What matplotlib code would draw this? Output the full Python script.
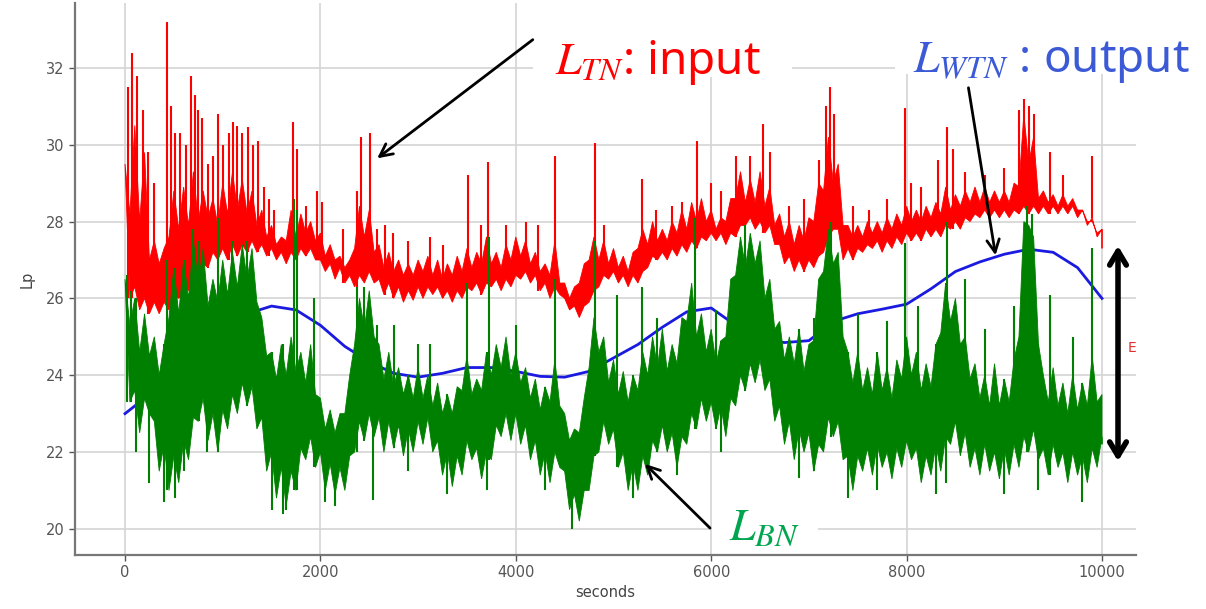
import numpy as np
import matplotlib
matplotlib.use("Agg")
import matplotlib.pyplot as plt
from matplotlib.patches import Rectangle

# ---------------- data ----------------
t_band = np.arange(0, 10001, 50)

red_hi = [29.5, 28.2, 30.5, 28.0, 29.8, 27.0, 27.5, 26.9, 27.3, 27.6,
          28.8, 27.8, 28.9, 27.9, 29.3, 28.0, 28.8, 28.1, 28.6, 27.9,
          29.0, 28.2, 29.3, 28.3, 29.1, 28.2, 28.8, 27.9, 28.3, 27.6,
          27.9, 27.4, 27.6, 27.5, 28.3, 27.6, 28.2, 27.7, 28.0, 27.5,
          27.7, 27.1, 27.4, 27.0, 27.1, 26.8, 27.0, 27.3, 28.4, 27.6,
          28.3, 27.2, 27.4, 26.8, 27.2, 26.7, 27.0, 26.6, 26.9, 26.6,
          27.0, 26.7, 27.1, 26.6, 27.0, 26.5, 26.9, 26.6, 27.1, 26.7,
          27.3, 26.8, 27.2, 26.9, 27.6, 26.9, 27.2, 26.8, 27.4, 27.0,
          27.6, 27.1, 27.5, 26.9, 27.2, 26.7, 26.9, 26.6, 27.5, 26.4,
          26.4, 26.0, 26.3, 26.4, 26.9, 27.0, 27.6, 27.0, 27.5, 26.9,
          27.3, 26.8, 27.1, 26.7, 27.2, 27.3, 27.8, 27.4, 28.0, 27.5,
          27.8, 27.5, 28.0, 27.7, 28.3, 27.8, 28.5, 28.0, 28.6, 28.0,
          28.3, 27.8, 28.1, 28.0, 28.6, 28.6, 29.3, 28.5, 29.1, 28.5,
          29.3, 28.4, 28.9, 27.9, 28.2, 27.6, 28.0, 27.4, 27.9, 27.5,
          28.1, 28.0, 29.0, 28.8, 30.2, 29.0, 29.5, 27.9, 27.9, 27.6,
          27.9, 27.6, 28.0, 27.7, 28.0, 27.7, 28.1, 27.8, 28.2, 27.9,
          28.4, 28.0, 28.3, 28.0, 28.4, 28.1, 28.5, 28.2, 28.9, 28.3,
          28.7, 28.4, 28.8, 28.5, 28.9, 28.5, 28.9, 28.5, 28.8, 28.5,
          28.8, 28.5, 29.0, 28.9, 30.8, 29.5, 30.2, 28.6, 28.8, 28.5,
          28.7, 28.4, 28.7, 28.4, 28.6, 28.3, 28.3, 28.0, 28.0, 27.7,
          27.8]
red_lo = [26.0, 26.3, 25.7, 26.0, 25.6, 25.9, 25.6, 25.9, 25.7, 26.1,
          26.0, 26.4, 26.2, 26.6, 26.5, 26.9, 26.8, 27.2, 27.0, 27.3,
          27.0, 27.4, 27.1, 27.4, 27.2, 27.5, 27.2, 27.4, 27.1, 27.3,
          27.0, 27.2, 26.9, 27.2, 27.0, 27.3, 27.1, 27.3, 27.0, 27.0,
          26.7, 26.9, 26.5, 26.8, 26.4, 26.6, 26.3, 26.6, 26.4, 26.7,
          26.4, 26.5, 26.1, 26.4, 26.0, 26.3, 25.9, 26.2, 25.95, 26.3,
          26.0, 26.3, 26.1, 26.3, 26.0, 26.2, 25.9, 26.2, 26.0, 26.3,
          26.2, 26.4, 26.1, 26.4, 26.3, 26.5, 26.2, 26.5, 26.3, 26.6,
          26.5, 26.7, 26.4, 26.6, 26.2, 26.4, 26.0, 26.3, 26.1, 26.0,
          25.7, 25.8, 25.5, 25.8, 25.9, 26.2, 26.3, 26.6, 26.5, 26.7,
          26.4, 26.6, 26.3, 26.6, 26.4, 26.7, 26.8, 27.1, 27.0, 27.2,
          27.0, 27.3, 27.1, 27.4, 27.2, 27.5, 27.3, 27.6, 27.5, 27.7,
          27.5, 27.7, 27.4, 27.7, 27.6, 27.9, 27.9, 28.1, 27.8, 28.0,
          27.7, 27.9, 27.4, 27.4, 26.9, 27.1, 26.7, 27.0, 26.7, 27.0,
          26.8, 27.1, 27.2, 27.6, 27.8, 27.8, 27.0, 27.3, 27.0, 27.3,
          27.2, 27.4, 27.3, 27.5, 27.2, 27.5, 27.3, 27.6, 27.4, 27.7,
          27.5, 27.7, 27.5, 27.8, 27.6, 27.8, 27.6, 27.9, 27.8, 28.0,
          27.8, 28.1, 28.0, 28.2, 28.1, 28.3, 28.1, 28.3, 28.1, 28.3,
          28.1, 28.3, 28.2, 28.4, 28.2, 28.4, 28.2, 28.4, 28.2, 28.4,
          28.2, 28.4, 28.2, 28.4, 28.1, 28.3, 27.9, 28.1, 27.6, 27.8,
          27.3]
red_spike_t = [30, 70, 120, 180, 240, 300, 430, 470, 510, 560, 620, 680, 720,
               750, 790, 850, 900, 955, 1000, 1060, 1110, 1150, 1200, 1260,
               1310, 1365, 1420, 1470, 1520, 1716, 1760, 1850, 1962, 2020,
               2235, 2370, 2420, 2508, 2576, 2660, 2746, 2900, 3122, 3250,
               3515, 3640, 3720, 3900, 4100, 4230, 4402, 4811, 4900, 5289,
               5430, 5600, 5700, 5850, 6000, 6100, 6250, 6400, 6532, 6600,
               6800, 6950, 7100, 7180, 7215, 7260, 7450, 7620, 7800, 7984,
               8050, 8150, 8320, 8410, 8470, 8600, 8800, 9000, 9150, 9200,
               9250, 9300, 9468, 9600, 9895]
red_spike_v = [31.5, 32.4, 31.8, 30.9, 29.8, 29.0, 33.2, 31.0, 30.3, 30.3,
               30.0, 31.8, 31.3, 30.9, 30.7, 29.5, 29.7, 30.8, 30.0, 30.3,
               30.6, 30.5, 30.3, 30.45, 30.0, 30.1, 28.9, 28.6, 28.3, 30.6,
               29.9, 28.4, 28.8, 28.5, 27.8, 28.8, 30.2, 30.3, 27.8, 27.9,
               27.7, 27.5, 27.6, 27.4, 29.2, 27.9, 29.55, 27.9, 28.0, 27.9,
               29.7, 30.05, 27.9, 29.1, 28.3, 28.4, 28.5, 30.1, 29.0, 28.8,
               29.7, 29.7, 30.55, 29.8, 28.4, 28.6, 29.6, 31.0, 31.5, 30.8,
               28.4, 28.3, 28.6, 30.95, 29.0, 28.9, 29.6, 30.45, 29.9, 29.3,
               29.2, 29.4, 30.9, 31.2, 31.0, 30.8, 29.8, 29.2, 29.7]

green_hi = [26.5, 25.3, 26.0, 24.6, 25.6, 24.5, 25.0, 24.0, 24.8, 25.5,
            26.8, 25.6, 27.0, 26.0, 27.5, 26.4, 27.3, 25.8, 26.5, 25.9,
            27.0, 26.1, 27.2, 26.3, 27.4, 26.5, 27.3, 25.9, 25.5, 24.5,
            24.6, 23.9, 24.8, 24.0, 25.0, 24.1, 24.6, 23.8, 24.8, 23.5,
            23.4, 22.6, 23.1, 22.5, 23.0, 23.0, 24.0, 24.8, 26.0, 25.2,
            26.2, 25.0, 24.8, 23.9, 24.6, 23.7, 24.2, 23.5, 24.0, 23.4,
            24.2, 23.4, 24.0, 23.2, 23.8, 23.0, 23.5, 23.0, 23.7, 23.6,
            24.5, 23.5, 23.9, 23.6, 24.6, 24.0, 24.8, 24.2, 25.0, 24.0,
            24.6, 23.8, 24.2, 23.4, 23.9, 23.1, 23.7, 23.3, 24.4, 23.2,
            23.0, 22.3, 22.6, 22.5, 23.4, 24.2, 25.5, 24.6, 25.0, 23.8,
            24.4, 23.5, 24.1, 23.3, 24.0, 23.6, 24.6, 24.0, 25.0, 24.2,
            25.2, 24.1, 24.8, 24.3, 25.5, 25.4, 26.4, 25.0, 25.6, 24.6,
            25.2, 24.3, 24.9, 25.0, 26.5, 26.6, 27.6, 26.8, 27.7, 26.9,
            27.5, 26.0, 26.5, 25.2, 25.4, 24.4, 25.0, 24.3, 25.2, 24.1,
            24.8, 24.9, 26.5, 26.7, 27.8, 26.9, 27.2, 25.0, 24.6, 23.8,
            24.6, 23.6, 24.2, 23.5, 24.6, 23.6, 24.2, 23.4, 24.4, 23.9,
            25.0, 24.0, 24.6, 23.6, 24.3, 23.7, 24.8, 25.1, 26.4, 25.4,
            26.0, 24.8, 25.0, 23.9, 24.3, 23.4, 24.0, 23.2, 24.3, 23.2,
            23.9, 23.3, 24.4, 25.0, 28.0, 27.9, 27.6, 24.8, 24.0, 23.3,
            24.2, 23.2, 23.8, 23.0, 24.0, 23.1, 23.8, 23.2, 24.5, 23.3,
            23.5]
green_lo = [23.3, 23.6, 22.5, 23.4, 23.0, 22.8, 21.5, 22.2, 21.0, 21.9,
            21.2, 22.3, 21.8, 22.9, 22.8, 23.4, 22.3, 23.0, 22.0, 23.1,
            22.6, 23.5, 23.0, 23.8, 23.2, 23.7, 22.6, 22.9, 21.5, 22.0,
            20.8, 21.6, 20.6, 21.5, 21.0, 22.1, 21.8, 22.4, 21.6, 22.0,
            21.0, 21.7, 20.9, 21.6, 21.0, 21.9, 22.0, 22.8, 22.3, 23.0,
            22.4, 22.9, 22.0, 22.8, 22.1, 22.7, 21.9, 22.6, 22.0, 22.8,
            22.2, 22.9, 22.0, 22.3, 21.4, 22.0, 21.1, 21.9, 21.4, 22.3,
            21.8, 22.1, 21.3, 22.0, 21.8, 22.7, 22.4, 23.0, 22.3, 23.0,
            22.2, 22.7, 21.8, 22.3, 21.4, 22.0, 21.2, 22.0, 21.6, 21.5,
            20.5, 20.9, 20.2, 21.0, 21.0, 21.9, 22.0, 22.8, 22.2, 22.6,
            21.6, 22.0, 21.0, 21.7, 21.0, 21.9, 21.4, 22.3, 22.0, 22.7,
            22.0, 22.5, 21.6, 22.4, 22.2, 23.0, 22.6, 23.4, 22.8, 23.3,
            22.6, 23.2, 22.4, 23.4, 23.2, 24.0, 23.6, 24.3, 23.8, 24.4,
            23.6, 23.9, 22.8, 23.2, 22.2, 22.8, 21.8, 22.6, 22.0, 22.5,
            21.5, 22.2, 22.0, 22.9, 22.4, 22.8, 21.8, 21.9, 21.0, 21.9,
            21.5, 22.1, 21.4, 22.2, 21.6, 22.0, 21.3, 22.1, 21.6, 22.3,
            21.8, 22.1, 21.2, 21.9, 21.4, 22.2, 21.5, 22.4, 22.2, 22.8,
            21.9, 22.5, 21.6, 22.1, 21.4, 22.2, 21.5, 22.0, 21.3, 22.1,
            21.4, 22.2, 21.6, 22.4, 22.0, 22.6, 21.8, 22.1, 21.4, 22.2,
            21.6, 22.0, 21.2, 22.0, 21.4, 21.9, 21.2, 22.1, 21.6, 22.4,
            22.2]
green_up_t = [20, 60, 430, 480, 700, 760, 955, 1100, 1250, 1730, 1760, 1930,
              2370, 2450, 2580, 2750, 3000, 3122, 3500, 3730, 4000, 4400,
              4810, 5032, 5289, 5450, 5830, 6050, 6350, 7050, 7230, 7500,
              7800, 7984, 8120, 8410, 8600, 8800, 9100, 9230, 9280, 9468,
              9700, 9900]
green_up_v = [26.6, 26.2, 27.0, 26.5, 27.8, 27.5, 28.1, 27.5, 27.5, 28.6,
              28.3, 26.0, 26.3, 26.3, 25.3, 25.3, 24.8, 24.8, 26.4, 27.6,
              25.3, 26.5, 27.5, 26.1, 26.3, 25.5, 28.1, 25.7, 27.9, 25.5,
              28.0, 25.6, 25.4, 27.45, 25.8, 28.0, 26.5, 25.2, 25.8, 28.4,
              28.2, 26.1, 25.0, 27.3]
green_dn_t = [113, 250, 400, 512, 600, 840, 1500, 1620, 1650, 2050, 2150,
              2542, 2900, 3300, 3700, 4300, 4570, 5200, 5650, 6100, 6900,
              7400, 7700, 8300, 8400, 9000, 9350, 9800]
green_dn_v = [22.0, 21.2, 20.7, 20.8, 21.5, 22.0, 20.5, 20.4, 20.5, 20.7,
              20.6, 20.75, 21.5, 20.9, 21.0, 21.0, 20.0, 20.8, 21.4, 22.0,
              21.3, 20.8, 21.0, 20.9, 21.2, 20.9, 21.0, 20.7]

t_out = np.arange(0, 10001, 250)
blue_out = [23.0, 23.5, 24.05, 24.7, 25.2, 25.6, 25.8, 25.7, 25.3, 24.75,
            24.35, 24.05, 23.95, 24.05, 24.2, 24.2, 24.1, 23.97, 23.95, 24.1,
            24.45, 24.8, 25.25, 25.65, 25.75, 25.3, 24.95, 24.85, 24.9, 25.4,
            25.6, 25.72, 25.85, 26.25, 26.7, 26.95, 27.15, 27.28, 27.2, 26.8,
            26.0]

x_ticks = [0, 2000, 4000, 6000, 8000, 10000]
y_ticks = [20, 22, 24, 26, 28, 30, 32]

# ---------------- figure ----------------
W, H = 1206, 609
fig = plt.figure(figsize=(W / 100, H / 100), dpi=100)
ax = fig.add_axes([75 / W, (H - 555) / H, (1136 - 75) / W, (555 - 3) / H])


def fp(x, y):
    """figure-pixel (top-left origin) -> figure fraction"""
    return (x / W, 1 - y / H)


def idx(t):
    return min(max(int(round(t / 50)), 0), len(t_band) - 1)


# the lower edge is staggered by half a sample so that upper and lower
# notches never coincide (keeps the noisy band solid)
t_low = np.minimum(t_band + 50, t_band[-1])


def band(hi, lo, color, z):
    xs = np.concatenate([t_band, t_low[::-1]])
    ys = np.concatenate([hi, lo[::-1]])
    ax.fill(xs, ys, facecolor=color, edgecolor=color, lw=0.6, zorder=z)


RED = "#ff0000"
GREEN = "#008000"
BLUE = "#1a1ae0"

# red: input
band(red_hi, red_lo, RED, 2)
ax.vlines(red_spike_t, [red_lo[idx(t - 50)] for t in red_spike_t],
          red_spike_v, color=RED, lw=1.5, zorder=2)
# blue: output
ax.plot(t_out, blue_out, color=BLUE, lw=2.0, zorder=3)
# green: background
band(green_hi, green_lo, GREEN, 4)
ax.vlines(green_up_t, [green_lo[idx(t - 50)] for t in green_up_t],
          green_up_v, color=GREEN, lw=1.5, zorder=4)
ax.vlines(green_dn_t, green_dn_v, [green_hi[idx(t)] for t in green_dn_t],
          color=GREEN, lw=1.5, zorder=4)

ax.set_xlim(-512, 10348)
ax.set_ylim(19.32, 33.69)
ax.set_xticks(x_ticks)
ax.set_yticks(y_ticks)
ax.grid(True, color="#d4d4d4", lw=1.2, zorder=0)
ax.set_axisbelow(True)
for s in ("top", "right"):
    ax.spines[s].set_visible(False)
for s in ("left", "bottom"):
    ax.spines[s].set_color("#777777")
    ax.spines[s].set_linewidth(1.6)
ax.tick_params(colors="#555555", labelsize=10.5, length=4, width=1)
ax.set_xlabel("seconds", fontsize=10.5, color="#444444", labelpad=3)
ax.set_ylabel("Lp", fontsize=10.5, color="#444444", labelpad=8)

# ---------------- overlay boxes and labels ----------------
plt.rcParams["mathtext.fontset"] = "stix"
for (x0, y0, x1, y1) in [(533, 0, 792, 77), (895, 0, 1206, 74), (712, 478, 818, 553)]:
    ax.add_patch(Rectangle(fp(x0, y1), (x1 - x0) / W, (y1 - y0) / H,
                           transform=fig.transFigure, facecolor="white",
                           edgecolor="none", clip_on=False, zorder=10))

fs = 33
ax.text(*fp(555, 74), "$L_{TN}$: input", transform=fig.transFigure, color=RED,
        fontsize=fs, family="Noto Sans", va="baseline", ha="left", zorder=11)
ax.text(*fp(913, 72), "$L_{WTN}$ : output", transform=fig.transFigure,
        color="#3c5ad6", fontsize=fs, family="Noto Sans", va="baseline",
        ha="left", zorder=11)
ax.text(*fp(729, 540), "$L_{BN}$", transform=fig.transFigure, color="#00a550",
        fontsize=fs, family="Noto Sans", va="baseline", ha="left", zorder=11)
ax.text(*fp(1128, 348), "E", transform=fig.transFigure, color="#e03030",
        fontsize=10, va="center", ha="left", zorder=11)

arrow_kw = dict(arrowstyle="->,head_length=0.9,head_width=0.45", color="black", lw=2)
for (x0, y0, x1, y1) in [(535, 38, 375, 160), (968, 85, 996, 258), (712, 530, 643, 462)]:
    ax.annotate("", xy=fp(x1, y1), xytext=fp(x0, y0), xycoords="figure fraction",
                textcoords="figure fraction", arrowprops=arrow_kw,
                annotation_clip=False, zorder=12)
ax.annotate("", xy=fp(1118, 243), xytext=fp(1118, 464), xycoords="figure fraction",
            textcoords="figure fraction",
            arrowprops=dict(arrowstyle="<->,head_length=1.0,head_width=0.6",
                            color="black", lw=4),
            annotation_clip=False, zorder=12)

fig.savefig("out.png", dpi=100)
